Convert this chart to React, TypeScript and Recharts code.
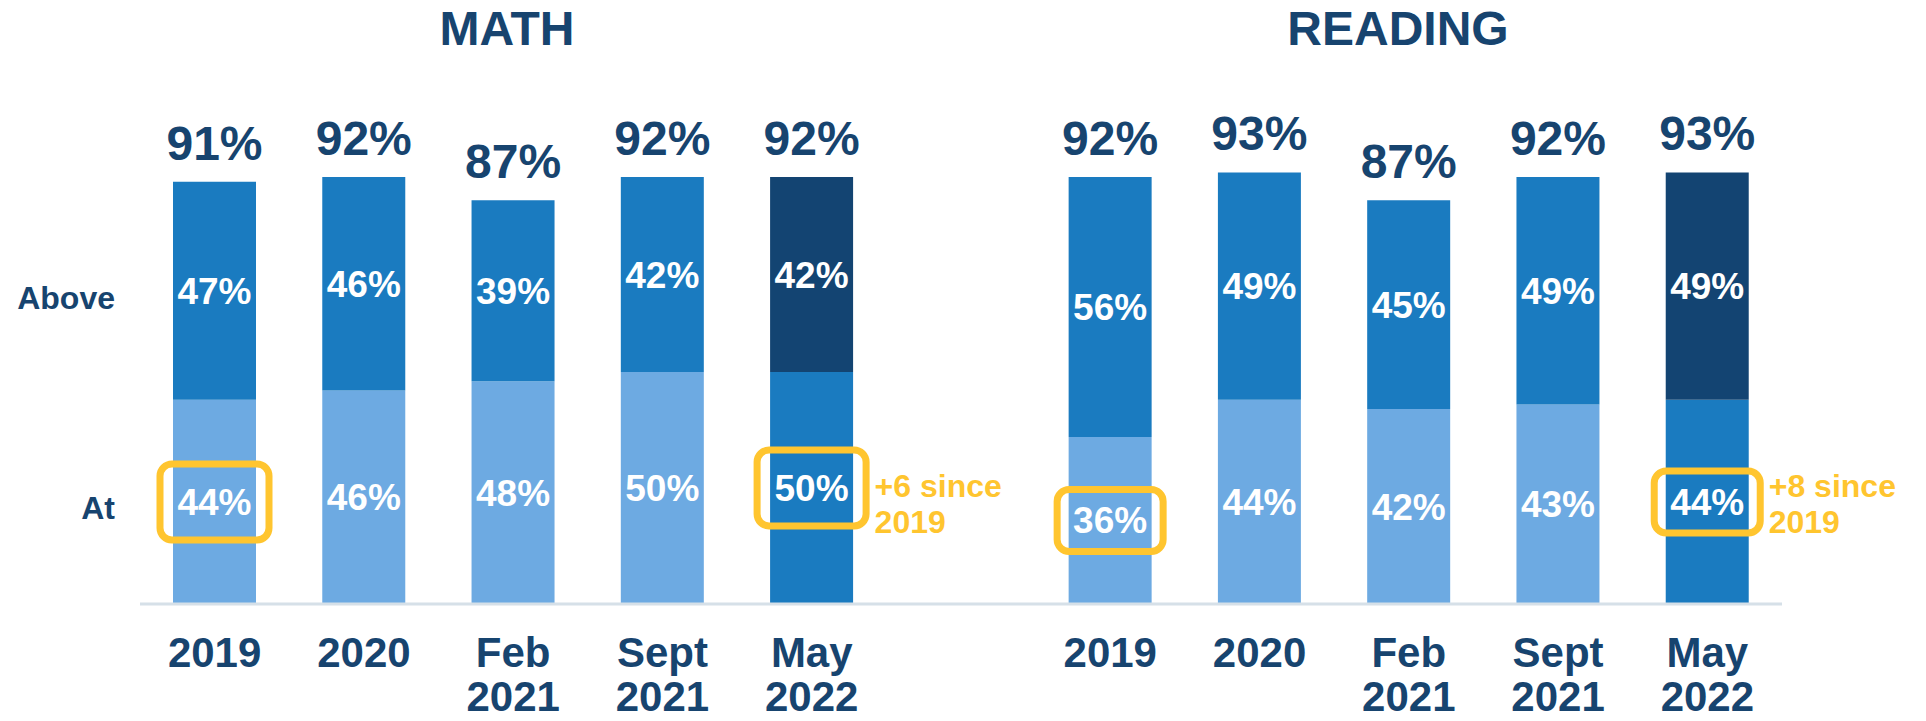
import React from 'react';
import { BarChart, Bar, XAxis, YAxis, LabelList, Cell } from 'recharts';

// Categories shared by both subjects
const periods = ['2019', '2020', 'Feb\n2021', 'Sept\n2021', 'May\n2022'];

// Percent of students At / Above benchmark
const mathAt = [44, 46, 48, 50, 50];
const mathAbove = [47, 46, 39, 42, 42];
const readingAt = [36, 44, 42, 43, 44];
const readingAbove = [56, 49, 45, 49, 49];

// Highlighted cells and their notes
const mathHighlight = [true, false, false, false, true];
const readingHighlight = [true, false, false, false, true];
const mathNotes = ['', '', '', '', '+6 since\n2019'];
const readingNotes = ['', '', '', '', '+8 since\n2019'];

const NAVY = '#17446F';
const LIGHT = '#6DAAE2';
const MID = '#1A7BC0';
const DARK = '#134472';
const YELLOW = '#FFC52F';
const FONT = '"Liberation Sans", Arial, sans-serif';

const buildRows = (subject: string, at: number[], above: number[], hl: boolean[], notes: string[]) =>
  periods.map((p, i) => ({
    name: p,
    subject,
    at: at[i],
    above: above[i],
    total: at[i] + above[i],
    highlight: hl[i],
    note: notes[i],
    latest: i === periods.length - 1,
  }));

// empty slot between the two subjects
const rows: any[] = [
  ...buildRows('math', mathAt, mathAbove, mathHighlight, mathNotes),
  { name: '', subject: '', at: null, above: null, total: null, highlight: false, note: '', latest: false },
  ...buildRows('reading', readingAt, readingAbove, readingHighlight, readingNotes),
].map((r, i) => ({ ...r, id: i }));

const boxSize: Record<string, [number, number]> = { math: [116, 83], reading: [113, 69] };

const getBox = (props: any) => {
  const vb = props.viewBox || props;
  return { x: Number(vb.x), y: Number(vb.y), w: Number(vb.width), h: Number(vb.height) };
};

// labels get the row id as value, so look the row up by it
const AtLabel = (props: any) => {
  const row = rows[props.value];
  if (!row || !row.subject) return null;
  const { x, y, w, h } = getBox(props);
  const cx = x + w / 2;
  const cy = y + h / 2;
  const bottom = y + h;
  const [bw, bh] = boxSize[row.subject] || [110, 70];
  const lines = row.note ? row.note.split('\n') : [];
  return (
    <g>
      {row.highlight && (
        <rect x={cx - bw / 2 + 3.5} y={cy - bh / 2 + 3.5} width={bw - 7} height={bh - 7} rx={12}
          fill="none" stroke={YELLOW} strokeWidth={7} />
      )}
      <text x={cx} y={cy} dy={13} textAnchor="middle" fill="#fff" fontSize={37} fontWeight="bold" fontFamily={FONT}>
        {`${row.at}%`}
      </text>
      {lines.map((l: string, i: number) => (
        <text key={i} x={cx + bw / 2 + 5} y={bottom - 107 + i * 36} fill={YELLOW} fontSize={32} fontWeight="bold" fontFamily={FONT}>
          {l}
        </text>
      ))}
    </g>
  );
};

const AboveLabel = (props: any) => {
  const row = rows[props.value];
  if (!row || !row.subject) return null;
  const { x, y, w, h } = getBox(props);
  const cx = x + w / 2;
  return (
    <g>
      <text x={cx} y={y + h / 2} dy={13} textAnchor="middle" fill="#fff" fontSize={37} fontWeight="bold" fontFamily={FONT}>
        {`${row.above}%`}
      </text>
      <text x={cx} y={y - 22} textAnchor="middle" fill={NAVY} fontSize={48} fontWeight="bold" fontFamily={FONT}>
        {`${row.total}%`}
      </text>
    </g>
  );
};

const PeriodTick = (props: any) => {
  const { x, y, payload } = props;
  const value: string = payload?.value || '';
  if (!value) return null;
  return (
    <text x={x} y={y} textAnchor="middle" fill={NAVY} fontSize={42} fontWeight="bold" fontFamily={FONT}>
      {value.split('\n').map((l, i) => (
        <tspan key={i} x={x} dy={i === 0 ? 63 : 44}>{l}</tspan>
      ))}
    </text>
  );
};

export default function App() {
  return (
    <div style={{ position: 'absolute', left: 0, top: 0, width: 1926, height: 721, background: '#fff' }}>
      <BarChart width={1926} height={721} data={rows} margin={{ top: 140, right: 144, bottom: 17, left: 140 }} barSize={83}>
        <XAxis dataKey="name" interval={0} tickLine={false} tickSize={0} tickMargin={0} height={100}
          axisLine={{ stroke: '#D6E0E8', strokeWidth: 3 }} tick={<PeriodTick />} />
        <YAxis hide domain={[0, 100]} />
        <Bar dataKey="at" stackId="a" isAnimationActive={false}>
          {rows.map((r, i) => (
            <Cell key={i} fill={r.latest ? MID : LIGHT} />
          ))}
          <LabelList dataKey="id" content={<AtLabel />} />
        </Bar>
        <Bar dataKey="above" stackId="a" isAnimationActive={false}>
          {rows.map((r, i) => (
            <Cell key={i} fill={r.latest ? DARK : MID} />
          ))}
          <LabelList dataKey="id" content={<AboveLabel />} />
        </Bar>
      </BarChart>
      <svg width={1926} height={721} style={{ position: 'absolute', left: 0, top: 0, pointerEvents: 'none' }}>
        <g fontFamily={FONT} fontWeight="bold" fill={NAVY}>
          <text x={507} y={45} textAnchor="middle" fontSize={48}>MATH</text>
          <text x={1398} y={45} textAnchor="middle" fontSize={48}>READING</text>
          <text x={115} y={309} textAnchor="end" fontSize={32}>Above</text>
          <text x={115} y={519} textAnchor="end" fontSize={32}>At</text>
        </g>
      </svg>
    </div>
  );
}
